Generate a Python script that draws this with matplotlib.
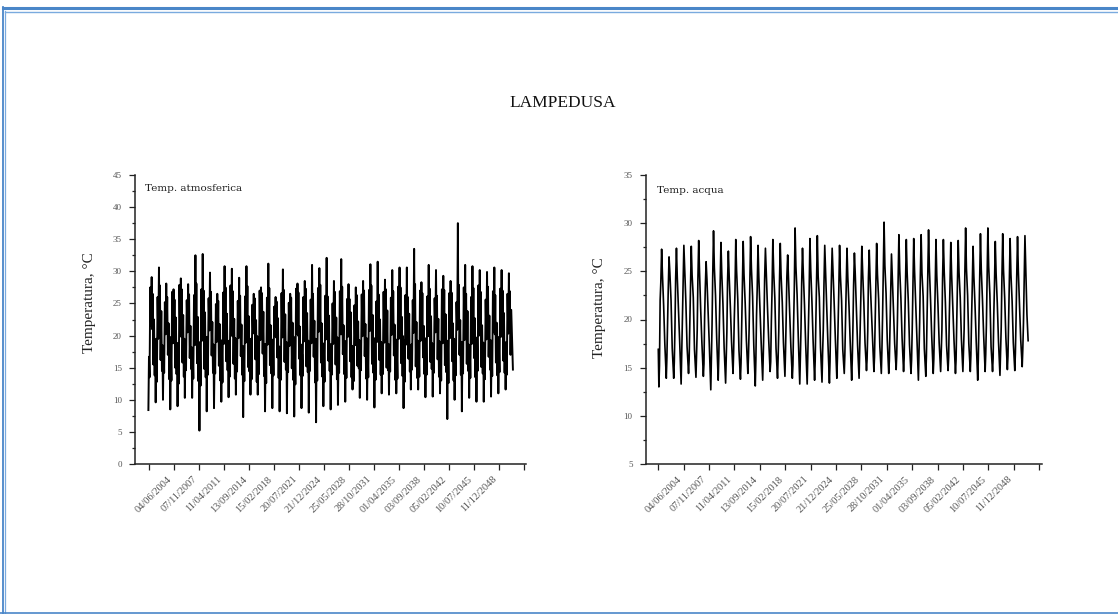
import matplotlib
matplotlib.use('Agg')
import matplotlib.pyplot as plt
import matplotlib.dates as mdates
import pandas as pd
from matplotlib.lines import Line2D
from matplotlib.transforms import ScaledTranslation

# ---------------- data ----------------
title = "LAMPEDUSA"
ylabel = "Temperatura, °C"
label_air = "Temp. atmosferica"
label_sea = "Temp. acqua"

date_labels = ["04/06/2004", "07/11/2007", "11/04/2011", "13/09/2014", "15/02/2018",
               "20/07/2021", "21/12/2024", "25/05/2028", "28/10/2031", "01/04/2035",
               "03/09/2038", "05/02/2042", "10/07/2045", "11/12/2048"]

# air temperature, values per annual cycle
air_min = [8.4, 9.6, 10.0, 8.5, 9.0, 10.3, 10.3, 5.2, 8.2, 8.7,
           9.7, 10.4, 10.8, 7.3, 10.8, 10.8, 8.2, 8.7, 8.2, 7.9,
           7.4, 8.7, 8.0, 6.5, 9.0, 8.5, 9.2, 9.7, 11.6, 10.3,
           10.0, 8.8, 11.0, 10.8, 11.0, 8.7, 11.6, 11.6, 10.4, 10.5,
           11.0, 7.0, 10.0, 8.2, 10.3, 9.7, 9.7, 10.5, 11.0, 11.6, 14.7]
air_rise1 = [16.7, 19.5, 18.0, 17.2, 18.8, 19.0, 17.5, 18.2, 19.8, 17.0,
             18.5, 19.2, 17.8, 18.0, 19.5, 17.3, 18.6, 19.0, 17.6, 18.4,
             18.9, 17.1, 18.3, 19.4, 17.9, 18.7, 17.4, 19.1, 18.2, 18.8,
             17.7, 19.6, 18.1, 18.5, 17.5, 19.3, 18.6, 18.0, 19.0, 17.8,
             18.4, 19.2, 17.6, 18.9, 18.3, 19.5, 17.9, 18.7, 18.2, 19.0]
air_dip1 = [13.5, 12.8, 14.2, 13.0, 12.5, 14.6, 13.3, 12.2, 13.9, 14.1,
            12.7, 13.6, 14.4, 12.9, 13.2, 14.0, 12.6, 13.8, 13.1, 14.3,
            12.4, 13.7, 14.5, 13.0, 12.8, 13.9, 14.2, 13.4, 12.9, 14.6,
            13.5, 13.1, 14.0, 14.4, 13.3, 12.8, 14.7, 13.6, 13.9, 14.2,
            13.0, 12.6, 13.8, 14.1, 13.4, 14.5, 13.2, 13.7, 14.3, 13.9]
air_rise2 = [27.5, 26.0, 25.2, 26.8, 27.9, 25.5, 26.3, 27.2, 25.8, 24.9,
             26.7, 27.8, 25.4, 26.1, 24.8, 27.0, 25.9, 24.5, 26.6, 25.1,
             27.3, 26.0, 25.6, 27.4, 26.2, 25.0, 26.9, 25.7, 24.7, 26.4,
             27.1, 25.3, 26.8, 25.9, 27.6, 26.3, 25.5, 27.0, 26.1, 25.8,
             27.2, 26.6, 25.2, 27.5, 26.0, 27.8, 25.6, 26.9, 27.3, 26.5]
air_dip2 = [21.5, 19.5, 20.2, 18.8, 19.9, 20.5, 18.5, 19.2, 20.8, 19.0,
            18.7, 20.1, 19.6, 18.9, 20.4, 19.3, 18.6, 20.0, 19.7, 18.4,
            20.3, 19.1, 18.8, 20.6, 19.4, 18.7, 20.2, 19.8, 18.5, 19.9,
            20.7, 19.0, 18.9, 20.1, 19.5, 18.6, 20.4, 19.2, 19.9, 20.5,
            18.8, 19.6, 20.9, 19.3, 18.7, 20.0, 19.4, 20.6, 19.8, 20.3]
air_max = [29.1, 30.6, 28.1, 27.2, 28.9, 28.0, 32.5, 32.7, 29.8, 26.5,
           30.8, 30.4, 29.0, 30.8, 26.5, 27.5, 31.2, 26.0, 30.3, 26.5,
           28.1, 28.5, 31.0, 30.5, 32.1, 28.5, 31.9, 28.0, 27.5, 28.5,
           31.1, 31.5, 28.7, 30.2, 30.6, 30.6, 33.5, 28.3, 31.0, 30.2,
           29.3, 28.5, 37.5, 31.0, 30.8, 30.2, 29.9, 30.6, 30.2, 29.7]
air_dip3 = [21.0, 20.2, 21.8, 20.5, 19.8, 21.4, 20.9, 20.1, 21.6, 20.4,
            21.2, 19.9, 20.7, 21.5, 20.3, 21.1, 20.6, 19.7, 21.3, 20.8,
            20.0, 21.7, 20.5, 21.0, 19.9, 21.4, 20.2, 20.9, 21.6, 20.4,
            21.2, 20.7, 19.8, 21.5, 20.3, 21.0, 20.8, 21.3, 20.1, 21.8,
            20.6, 19.9, 21.1, 20.4, 21.4, 20.7, 21.0, 20.2, 21.5, 20.8]
air_peak2 = [26.5, 27.8, 26.0, 25.6, 27.2, 26.4, 28.1, 27.0, 26.8, 25.4,
             27.5, 26.9, 26.2, 27.7, 25.8, 26.6, 27.4, 25.3, 27.1, 25.9,
             26.7, 27.3, 26.5, 27.9, 26.1, 26.8, 27.6, 25.7, 26.3, 27.0,
             27.8, 26.4, 27.2, 26.9, 27.5, 26.0, 28.0, 26.6, 27.3, 26.2,
             27.1, 26.7, 27.9, 26.5, 27.4, 26.8, 27.6, 26.3, 27.0, 26.9]
air_fall1 = [15.5, 16.2, 17.0, 15.0, 15.8, 16.5, 15.7, 14.8, 16.9, 15.3,
             16.0, 15.6, 16.8, 15.1, 16.3, 17.2, 15.4, 16.6, 15.9, 14.9,
             16.4, 15.2, 16.7, 15.8, 16.1, 15.5, 17.1, 16.0, 15.3, 16.8,
             15.6, 16.2, 15.0, 16.9, 15.7, 16.4, 15.2, 16.6, 15.9, 16.3,
             15.4, 16.0, 17.0, 15.6, 16.5, 15.1, 16.7, 15.8, 16.1, 17.0]
air_fall2 = [22.5, 23.8, 21.9, 22.8, 23.2, 21.5, 22.9, 23.6, 22.1, 21.8,
             23.4, 22.6, 21.7, 23.0, 22.4, 23.7, 21.6, 22.7, 23.3, 22.0,
             21.4, 23.5, 22.3, 21.9, 23.1, 22.8, 21.6, 23.6, 22.2, 21.8,
             23.2, 22.5, 23.9, 21.7, 22.9, 23.4, 22.1, 21.5, 23.0, 22.6,
             23.3, 21.9, 22.4, 23.8, 22.7, 21.6, 23.1, 22.0, 23.5, 24.0]
air_dip4 = [13.8, 14.5, 13.2, 14.0, 13.6, 14.8, 12.9, 13.5, 14.2, 13.0,
            14.6, 13.3, 13.9, 14.4, 12.8, 13.7, 14.1, 13.4, 14.7, 13.1,
            13.8, 14.3, 12.7, 13.6, 14.5, 13.2, 14.0, 13.5, 14.9, 13.3,
            14.2, 13.9, 14.6, 13.1, 13.7, 14.4, 13.4, 14.0, 14.8, 13.6,
            14.3, 13.0, 13.9, 14.5, 13.5, 14.1, 14.7, 13.8, 14.2]
air_rise0 = [19.2, 18.5, 19.8, 18.8, 19.5, 18.2, 19.0, 19.7, 18.6, 19.3,
             18.9, 19.6, 18.4, 19.1, 19.9, 18.7, 19.4, 18.3, 19.0, 19.8,
             18.6, 19.2, 19.5, 18.8, 18.5, 19.7, 19.1, 18.4, 19.3, 19.6,
             18.9, 19.0, 18.7, 19.4, 19.9, 18.5, 19.2, 19.6, 18.8, 19.1,
             18.3, 19.5, 19.0, 18.6, 19.7, 18.9, 19.3, 19.8, 18.7]

# sea temperature, values per annual cycle
sea_lead = [16.9]
sea_min = [13.0, 13.9, 13.9, 13.3, 14.4, 14.0, 14.1, 12.7, 13.7, 13.4,
           14.4, 13.8, 14.4, 13.1, 13.7, 14.6, 13.9, 14.1, 13.9, 13.3,
           13.3, 13.7, 13.5, 13.4, 13.9, 14.4, 13.7, 13.9, 14.7, 14.6,
           14.4, 14.4, 14.8, 14.6, 14.4, 13.7, 14.1, 14.4, 14.6, 14.7,
           14.4, 14.6, 14.6, 13.7, 14.6, 14.6, 14.2, 14.8, 14.7, 15.1]
sea_rise1 = [15.2, 16.0, 15.6, 16.3, 15.8, 16.5, 15.4, 15.9, 16.2, 15.7,
             16.6, 15.5, 16.1, 15.8, 16.4, 15.6, 16.0, 16.7, 15.3, 15.9,
             16.2, 15.7, 16.5, 15.6, 16.0, 16.3, 15.8, 16.6, 15.9, 16.1,
             16.8, 15.7, 16.4, 16.0, 15.8, 16.5, 16.2, 15.9, 16.6, 16.1,
             15.8, 16.7, 16.3, 15.9, 16.4, 16.0, 16.6, 16.2, 16.5, 16.9]
sea_rise2 = [22.0, 19.8, 19.2, 20.0, 19.5, 18.9, 20.3, 19.4, 19.9, 18.7,
             20.1, 19.6, 19.0, 20.4, 19.3, 19.8, 18.8, 20.2, 19.5, 19.1,
             20.0, 19.7, 18.9, 20.3, 19.4, 19.9, 19.2, 20.1, 18.8, 19.6,
             20.4, 19.3, 19.8, 20.0, 19.1, 19.7, 20.2, 19.5, 18.9, 20.3,
             19.6, 19.0, 20.1, 19.8, 19.4, 20.5, 19.2, 19.9, 20.0, 19.6]
sea_rise3 = [23.8, 23.0, 24.2, 23.5, 22.8, 24.0, 23.3, 24.5, 23.1, 23.9,
             22.7, 24.3, 23.6, 23.2, 24.1, 22.9, 23.7, 24.4, 23.0, 23.8,
             22.6, 24.2, 23.4, 23.9, 22.8, 24.0, 23.5, 23.1, 24.3, 23.6,
             24.6, 22.9, 23.8, 24.1, 23.3, 24.4, 23.7, 23.0, 24.2, 23.5,
             23.9, 24.5, 23.2, 24.0, 24.3, 23.6, 24.1, 23.8, 24.4, 24.0]
sea_max = [27.3, 26.5, 27.4, 27.7, 27.6, 28.2, 26.0, 29.2, 28.0, 27.1,
           28.3, 28.1, 28.6, 27.7, 27.4, 28.3, 27.9, 26.7, 29.5, 27.4,
           28.4, 28.7, 27.7, 27.4, 27.7, 27.4, 26.9, 27.6, 27.2, 27.9,
           30.1, 26.8, 28.8, 28.3, 28.4, 28.8, 29.3, 28.3, 28.3, 28.0,
           28.2, 29.5, 27.6, 28.9, 29.5, 28.1, 28.9, 28.4, 28.6, 28.7]
sea_fall1 = [24.7, 24.9, 24.4, 25.2, 24.6, 25.0, 24.2, 25.4, 24.8, 24.5,
             25.1, 24.7, 25.3, 24.4, 24.9, 25.0, 24.6, 24.3, 25.5, 24.8,
             25.2, 24.5, 24.9, 25.1, 24.6, 24.4, 24.8, 25.0, 24.3, 24.7,
             25.6, 24.5, 25.2, 24.9, 25.1, 24.8, 25.4, 24.6, 25.0, 24.7,
             24.9, 25.3, 24.5, 25.2, 25.5, 24.8, 25.1, 24.7, 25.0, 25.5]
sea_fall2 = [21.5, 22.0, 21.2, 21.8, 22.3, 21.0, 20.8, 22.5, 21.6, 21.3,
             22.1, 21.7, 22.4, 20.9, 21.4, 22.2, 21.8, 21.1, 22.6, 21.5,
             21.9, 22.3, 21.2, 21.7, 22.0, 21.4, 20.9, 21.8, 21.3, 22.1,
             22.7, 21.0, 22.2, 21.9, 21.6, 22.4, 22.0, 21.5, 21.8, 21.2,
             22.3, 22.5, 21.4, 22.1, 22.6, 21.7, 22.2, 21.9, 21.6, 20.5]
sea_fall3 = [17.5, 17.0, 17.8, 17.2, 16.9, 17.6, 17.4, 18.0, 17.1, 17.7,
             16.8, 17.9, 17.3, 17.5, 18.1, 17.0, 17.6, 17.2, 18.2, 17.4,
             17.8, 17.1, 17.5, 18.0, 16.9, 17.7, 17.3, 17.6, 18.3, 17.2,
             17.9, 17.5, 18.1, 17.4, 17.8, 17.0, 18.2, 17.6, 17.3, 17.9,
             18.0, 17.5, 17.7, 18.4, 17.2, 17.8, 18.1, 17.6, 17.9, 17.8]

# ---------------- helpers ----------------
W, H = 1118, 614
SERIF = ['Liberation Serif', 'DejaVu Serif']
plt.rcParams['font.family'] = SERIF

tick_dates = [mdates.date2num(d) for d in pd.to_datetime(date_labels, format='%d/%m/%Y')]
step = 1251
all_ticks = tick_dates + [tick_dates[-1] + step, tick_dates[-1] + 2 * step]
all_labels = date_labels + ["", ""]


def build(start, arrays, phases, lead=None, lead_phase=0.0):
    t, v = [], []
    if lead:
        for val in lead:
            t.append(start + lead_phase * 365.25)
            v.append(val)
    n = max(len(a) for a in arrays)
    for i in range(n):
        for arr, ph in zip(arrays, phases):
            if i < len(arr):
                t.append(start + (i + ph) * 365.25)
                v.append(arr[i])
    return t, v


air_t, air_v = build(tick_dates[0] - 30,
                     [air_min, air_rise1, air_dip1, air_rise2, air_dip2, air_max,
                      air_dip3, air_peak2, air_fall1, air_fall2, air_dip4, air_rise0],
                     [0.0, 0.08, 0.16, 0.26, 0.36, 0.45, 0.52, 0.58, 0.67, 0.77, 0.86, 0.93])
sea_t, sea_v = build(tick_dates[0],
                     [sea_min, sea_rise1, sea_rise2, sea_rise3, sea_max, sea_fall1, sea_fall2, sea_fall3],
                     [0.08, 0.16, 0.25, 0.34, 0.45, 0.56, 0.72, 0.88],
                     lead=sea_lead, lead_phase=0.0)

fig = plt.figure(figsize=(W / 100, H / 100), dpi=100)
fig.patch.set_facecolor('white')


def fx(px):
    return px / W


def fy(py):
    return 1 - py / H


ax1 = fig.add_axes([fx(135), fy(464), (526 - 135) / W, (464 - 175) / H])
ax2 = fig.add_axes([fx(645.7), fy(464), (1041.7 - 645.7) / W, (464 - 175) / H])


def style(ax, ylim, major, xl):
    ax.set_ylim(*ylim)
    ax.set_xlim(*xl)
    for s in ['top', 'right']:
        ax.spines[s].set_visible(False)
    for s in ['left', 'bottom']:
        ax.spines[s].set_linewidth(1.1)
        ax.spines[s].set_color('#222222')
    ax.set_yticks([ylim[0] + k * major for k in range(int((ylim[1] - ylim[0]) / major) + 1)])
    ax.set_yticks([ylim[0] + major / 2 + k * major for k in range(int((ylim[1] - ylim[0]) / major))], minor=True)
    ax.tick_params(axis='y', which='major', direction='out', length=4.5, width=0.9,
                   labelsize=6.5, labelcolor='#555555', color='#222222', pad=5)
    ax.tick_params(axis='y', which='minor', direction='out', length=2.5, width=0.9, color='#222222')
    ax.set_xticks(all_ticks)
    ax.set_xticklabels(all_labels, rotation=45, ha='center', fontsize=7.5, color='#555555')
    ax.tick_params(axis='x', which='major', direction='out', length=4.5, width=0.9, color='#222222', pad=3)
    off = ScaledTranslation(5 / 100, 0, fig.dpi_scale_trans)
    for lab in ax.get_xticklabels():
        lab.set_transform(lab.get_transform() + off)
    ax.set_ylabel(ylabel, fontsize=11, color='#222222')


style(ax1, (0, 45), 5, (tick_dates[0] - 701, tick_dates[0] + 18888))
style(ax2, (5, 35), 5, (tick_dates[0] - 620, tick_dates[0] + 18887))
ax1.yaxis.set_label_coords(-0.10, 0.56)
ax2.yaxis.set_label_coords(-0.10, 0.54)

ax1.plot(air_t, air_v, color='black', lw=1.4)
ax2.plot(sea_t, sea_v, color='black', lw=1.2)

ax1.text(0.025, 0.955, label_air, transform=ax1.transAxes, fontsize=7.5, color='#222222',
         ha='left', va='center', family=['DejaVu Serif'])
ax2.text(0.028, 0.945, label_sea, transform=ax2.transAxes, fontsize=7.5, color='#222222',
         ha='left', va='center', family=['DejaVu Serif'])

fig.text(fx(563), fy(103), title, fontsize=12.5, ha='center', va='center', color='#111111')

# page frame (blue double border)
outer = '#4a86c8'
inner = '#7aaade'
fig.add_artist(Line2D([fx(2.5), fx(W)], [fy(8.2), fy(8.2)], transform=fig.transFigure, color=outer, lw=2.2))
fig.add_artist(Line2D([fx(5), fx(W)], [fy(11.5), fy(11.5)], transform=fig.transFigure, color=inner, lw=1.0))
fig.add_artist(Line2D([fx(3.2), fx(3.2)], [fy(7), fy(H)], transform=fig.transFigure, color=outer, lw=1.3))
fig.add_artist(Line2D([fx(5.2), fx(5.2)], [fy(11), fy(H)], transform=fig.transFigure, color=inner, lw=0.9))
fig.add_artist(Line2D([fx(0), fx(W)], [fy(612.8), fy(612.8)], transform=fig.transFigure, color=outer, lw=1.2))

fig.savefig('out.png', dpi=100, facecolor='white')
